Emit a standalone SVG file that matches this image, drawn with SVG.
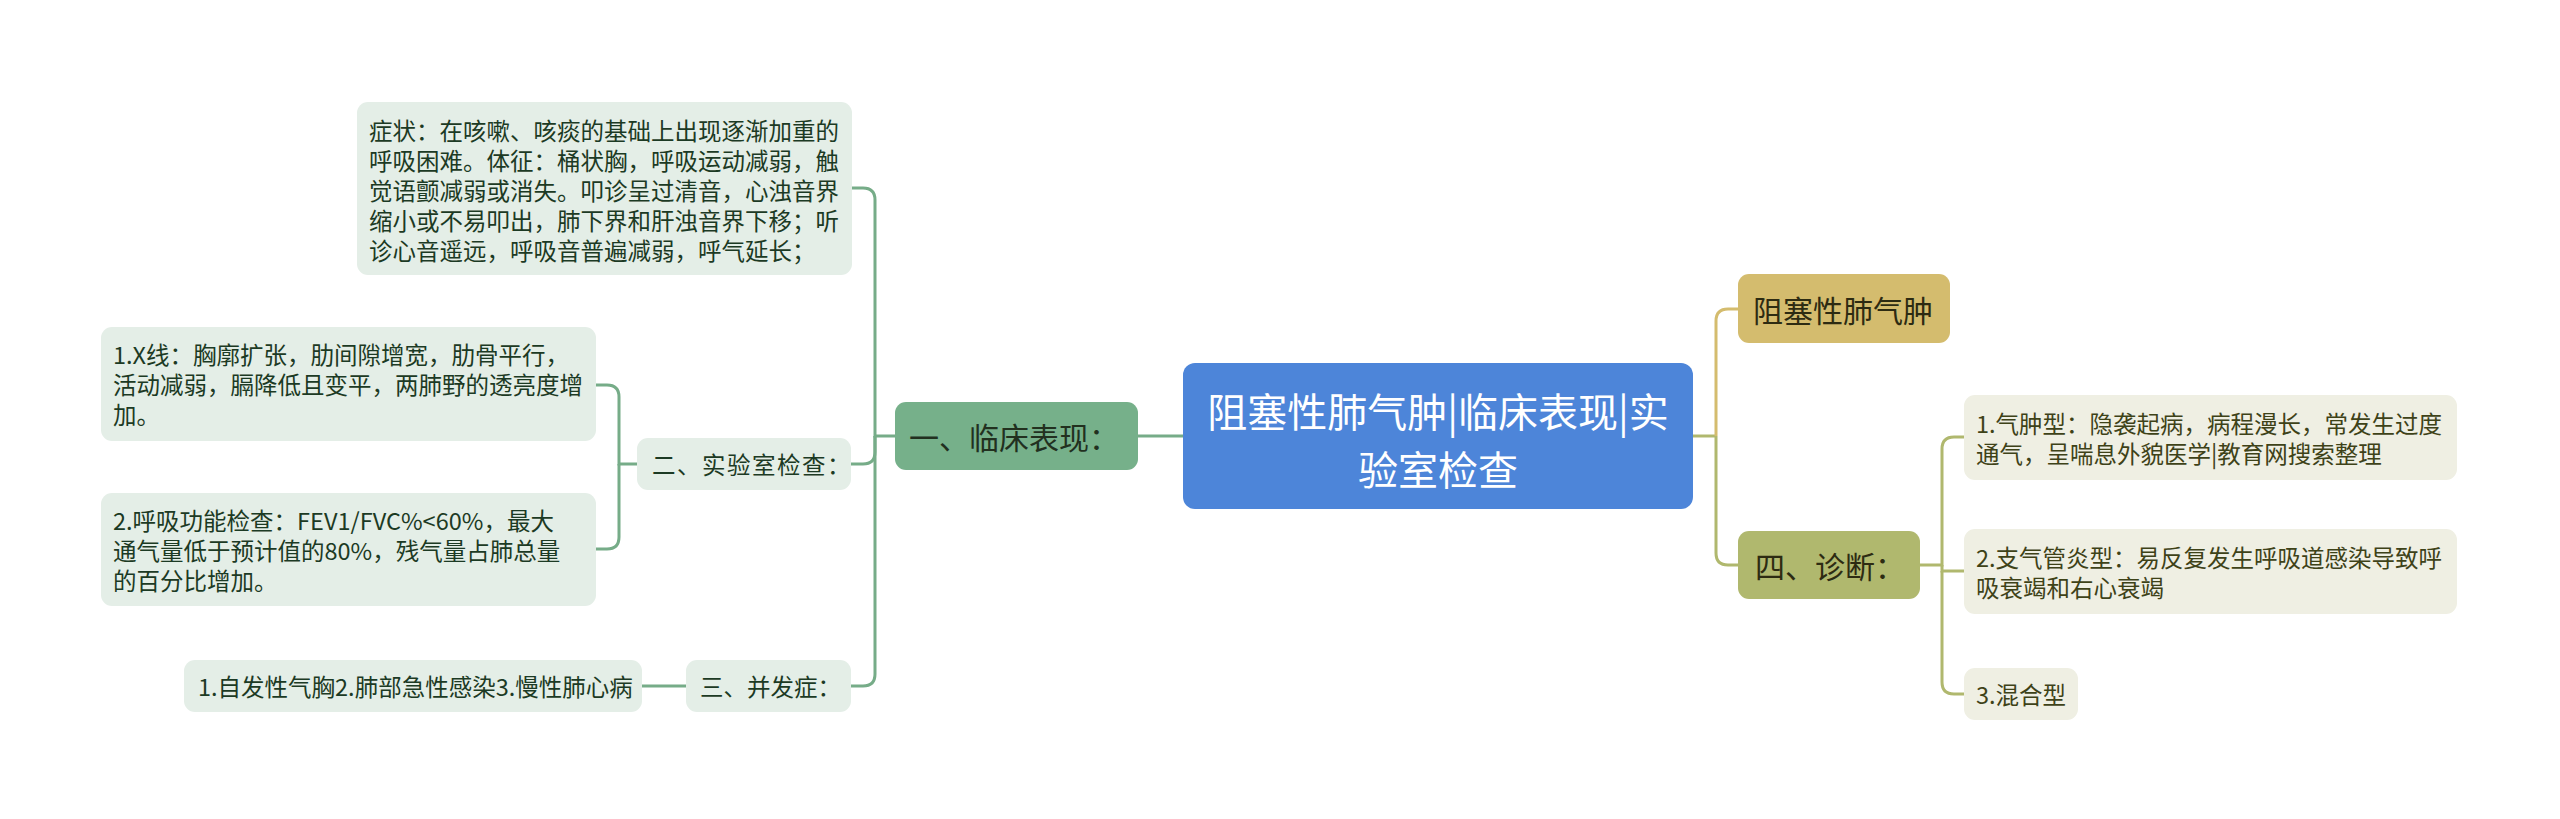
<svg xmlns="http://www.w3.org/2000/svg" width="2560" height="819" viewBox="0 0 2560 819">
<style>
text{font-family:"Noto Sans CJK SC","Noto Sans",sans-serif;dominant-baseline:central}
.lf{font-size:23.5px;fill:#1c3a24}
.rf{font-size:23.5px;fill:#3e4218}
.l1{font-size:30px;fill:#22301f}
.r1{font-size:30px;fill:#2d2b12}
.ctr{font-size:40px;fill:#ffffff}
.gbox{fill:#e4eee7}
.ybox{fill:#efefe3}
.cg{fill:none;stroke:#76ac88;stroke-width:3}
.co{fill:none;stroke:#b0b86e;stroke-width:3}
.ct{fill:none;stroke:#d4bc6e;stroke-width:3}
</style>
<rect width="2560" height="819" fill="#ffffff"/>
<g id="connectors">
<path class="cg" d="M1183 436 H1138"/>
<path class="cg" d="M895 436 H875 V200 Q875 188 863 188 H852"/>
<path class="cg" d="M875 436 V452 Q875 464 863 464 H851"/>
<path class="cg" d="M875 436 V674 Q875 686 863 686 H851"/>
<path class="cg" d="M637 464 H619 V397 Q619 385 607 385 H596"/>
<path class="cg" d="M619 464 V537 Q619 549 607 549 H596"/>
<path class="cg" d="M686 686 H642"/>
<path class="co" d="M1693 436 H1716"/>
<path class="ct" d="M1716 436 V321 Q1716 309 1728 309 H1738"/>
<path class="co" d="M1716 436 V553 Q1716 565 1728 565 H1738"/>
<path class="co" d="M1920 565 H1942 V449 Q1942 437 1954 437 H1964"/>
<path class="co" d="M1942 565 V571 H1964"/>
<path class="co" d="M1942 571 V682 Q1942 694 1954 694 H1964"/>
</g>
<g id="center">
<rect x="1183" y="363" width="510" height="146" rx="12" fill="#4d85d9"/>
<text class="ctr" x="1438" y="410" text-anchor="middle">阻塞性肺气肿|临床表现|实</text>
<text class="ctr" x="1438" y="468" text-anchor="middle">验室检查</text>
</g>
<g id="n1">
<rect x="895" y="402" width="243" height="68" rx="11" fill="#76b08a"/>
<text class="l1" x="909" y="436">一、临床表现：</text>
</g>
<g id="n1a">
<rect class="gbox" x="357" y="102" width="495" height="173" rx="11"/>
<text class="lf" x="369" y="129.5">症状：在咳嗽、咳痰的基础上出现逐渐加重的</text>
<text class="lf" x="369" y="159.5">呼吸困难。体征：桶状胸，呼吸运动减弱，触</text>
<text class="lf" x="369" y="189.5">觉语颤减弱或消失。叩诊呈过清音，心浊音界</text>
<text class="lf" x="369" y="219.5">缩小或不易叩出，肺下界和肝浊音界下移；听</text>
<text class="lf" x="369" y="249.5">诊心音遥远，呼吸音普遍减弱，呼气延长；</text>
</g>
<g id="n2">
<rect class="gbox" x="637" y="438" width="214" height="52" rx="11"/>
<text class="lf" x="652" y="464" letter-spacing="1.5">二、实验室检查：</text>
</g>
<g id="n2a">
<rect class="gbox" x="101" y="327" width="495" height="114" rx="11"/>
<text class="lf" x="113" y="354">1.X线：胸廓扩张，肋间隙增宽，肋骨平行，</text>
<text class="lf" x="113" y="384">活动减弱，膈降低且变平，两肺野的透亮度增</text>
<text class="lf" x="113" y="414">加。</text>
</g>
<g id="n2b">
<rect class="gbox" x="101" y="493" width="495" height="113" rx="11"/>
<text class="lf" x="113" y="519.5">2.呼吸功能检查：FEV1/FVC%&lt;60%，最大</text>
<text class="lf" x="113" y="549.5">通气量低于预计值的80%，残气量占肺总量</text>
<text class="lf" x="113" y="579.5">的百分比增加。</text>
</g>
<g id="n3">
<rect class="gbox" x="686" y="660" width="165" height="52" rx="11"/>
<text class="lf" x="700" y="686">三、并发症：</text>
</g>
<g id="n3a">
<rect class="gbox" x="184" y="660" width="458" height="52" rx="11"/>
<text class="lf" x="198" y="686">1.自发性气胸2.肺部急性感染3.慢性肺心病</text>
</g>
<g id="n4">
<rect x="1738" y="274" width="212" height="69" rx="11" fill="#d4bc6e"/>
<text class="r1" x="1753" y="308.5">阻塞性肺气肿</text>
</g>
<g id="n5">
<rect x="1738" y="531" width="182" height="68" rx="11" fill="#b0b86e"/>
<text class="r1" x="1755" y="565">四、诊断：</text>
</g>
<g id="n5a">
<rect class="ybox" x="1964" y="395" width="493" height="85" rx="11"/>
<text class="rf" x="1976" y="422.5">1.气肿型：隐袭起病，病程漫长，常发生过度</text>
<text class="rf" x="1976" y="452.5">通气，呈喘息外貌医学|教育网搜索整理</text>
</g>
<g id="n5b">
<rect class="ybox" x="1964" y="529" width="493" height="85" rx="11"/>
<text class="rf" x="1976" y="556.5">2.支气管炎型：易反复发生呼吸道感染导致呼</text>
<text class="rf" x="1976" y="586.5">吸衰竭和右心衰竭</text>
</g>
<g id="n5c">
<rect class="ybox" x="1964" y="668" width="114" height="52" rx="11"/>
<text class="rf" x="1976" y="694">3.混合型</text>
</g>
</svg>
